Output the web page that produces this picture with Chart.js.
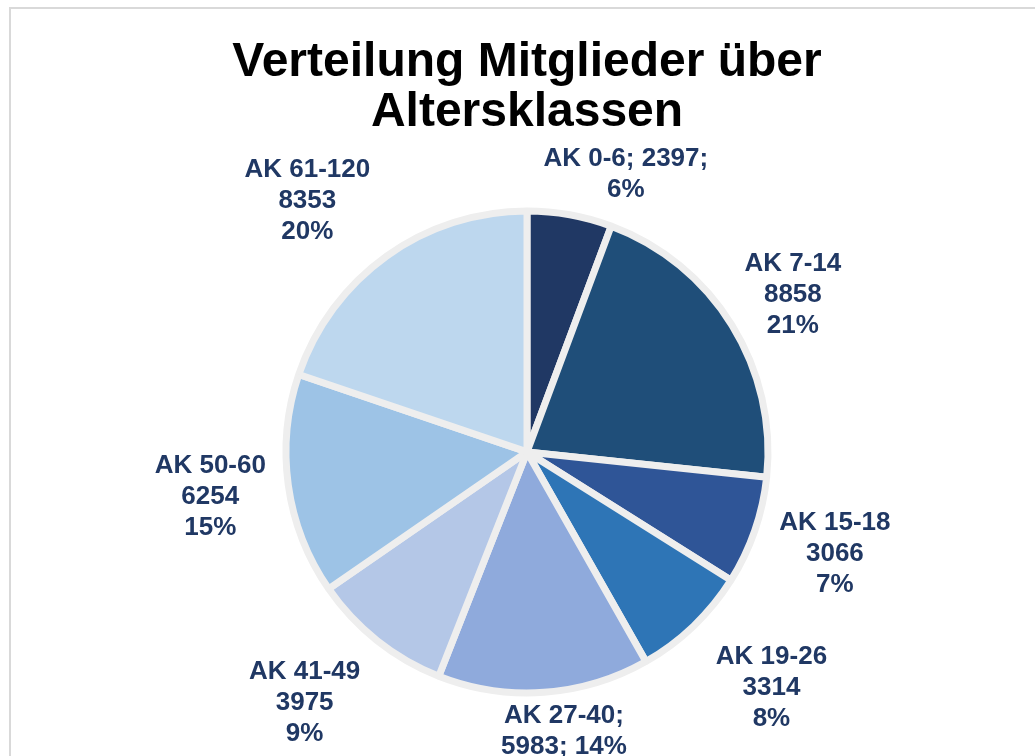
<!DOCTYPE html>
<html>
<head>
<meta charset="utf-8">
<script src="https://cdn.jsdelivr.net/npm/chart.js@4.4.1/dist/chart.umd.min.js"></script>
<style>
  html, body { margin: 0; padding: 0; background: #fff; overflow: hidden; }
  #frame { position: absolute; left: 9px; top: 7px; width: 1100px; height: 800px; border: 2px solid #d9d9d9; }
  #wrap { position: absolute; left: 0; top: 0; width: 1035px; height: 756px; }
</style>
</head>
<body>
<div id="frame"></div>
<div id="wrap"><canvas id="pieChart"></canvas></div>
<script>
const categories = ['AK 0-6', 'AK 7-14', 'AK 15-18', 'AK 19-26', 'AK 27-40', 'AK 41-49', 'AK 50-60', 'AK 61-120'];
const members = [2397, 8858, 3066, 3314, 5983, 3975, 6254, 8353];
const sliceColors = ['#203864', '#1f4e79', '#2f5597', '#2e75b6', '#8faadc', '#b4c7e7', '#9dc3e6', '#bdd7ee'];
// how Excel broke each data label: {c} category, {v} value, {p} percent
const labelFormats = ['{c}; {v};\n{p}', '{c}\n{v}\n{p}', '{c}\n{v}\n{p}', '{c}\n{v}\n{p}',
                      '{c};\n{v}; {p}', '{c}\n{v}\n{p}', '{c}\n{v}\n{p}', '{c}\n{v}\n{p}'];

const total = members.reduce((a, b) => a + b, 0);

function labelLines(i) {
    const pct = Math.round(members[i] / total * 100) + '%';
    return labelFormats[i]
        .replace('{c}', categories[i])
        .replace('{v}', members[i])
        .replace('{p}', pct)
        .split('\n');
}

// draws the outside-end data labels
const outsideLabels = {
    id: 'outsideLabels',
    afterDatasetsDraw(chart, args, opts) {
        const ctx = chart.ctx;
        const meta = chart.getDatasetMeta(0);
        ctx.save();
        ctx.font = opts.font;
        ctx.fillStyle = opts.color;
        ctx.textAlign = 'center';
        ctx.textBaseline = 'middle';
        meta.data.forEach((arc, i) => {
            const lines = labelLines(i);
            const mid = (arc.startAngle + arc.endAngle) / 2;
            const cos = Math.cos(mid), sin = Math.sin(mid);
            const w = Math.max(...lines.map(l => ctx.measureText(l).width));
            const h = lines.length * opts.lineHeight;
            const r = arc.outerRadius + opts.gap;
            const nudge = opts.nudge[i] || [0, 0];
            const cx = arc.x + cos * r + cos * w / 2 + nudge[0];
            const cy = arc.y + sin * r + sin * h / 2 + nudge[1];
            lines.forEach((l, k) => {
                ctx.fillText(l, cx, cy - h / 2 + opts.lineHeight * (k + 0.5));
            });
        });
        ctx.restore();
    }
};

new Chart(document.getElementById('pieChart').getContext('2d'), {
    type: 'pie',
    data: {
        labels: categories,
        datasets: [{
            data: members,
            backgroundColor: sliceColors,
            borderColor: '#eeeeee',
            borderWidth: 7,
            radius: 241
        }]
    },
    options: {
        responsive: true,
        maintainAspectRatio: false,
        animation: false,
        layout: { padding: { left: 20, right: 1, top: 0, bottom: 0 } },
        plugins: {
            legend: { display: false },
            tooltip: { enabled: false },
            title: {
                display: true,
                text: ['Verteilung Mitglieder über', 'Altersklassen'],
                color: '#000',
                font: { family: '"Liberation Sans", Arial, sans-serif', size: 48, weight: 'bold', lineHeight: 1.04 },
                padding: { top: 38, bottom: 10 }
            },
            outsideLabels: {
                font: 'bold 26px "Liberation Sans", Arial, sans-serif',
                color: '#203864',
                lineHeight: 31,
                gap: 8,
                // small manual shifts, like dragging labels in Excel
                nudge: [[40, -2], [13, -2], [20, 5], [34, 22], [15, 0], [-33, 19], [-15, 4], [-38, -11]]
            }
        }
    },
    plugins: [outsideLabels]
});
</script>
</body>
</html>
